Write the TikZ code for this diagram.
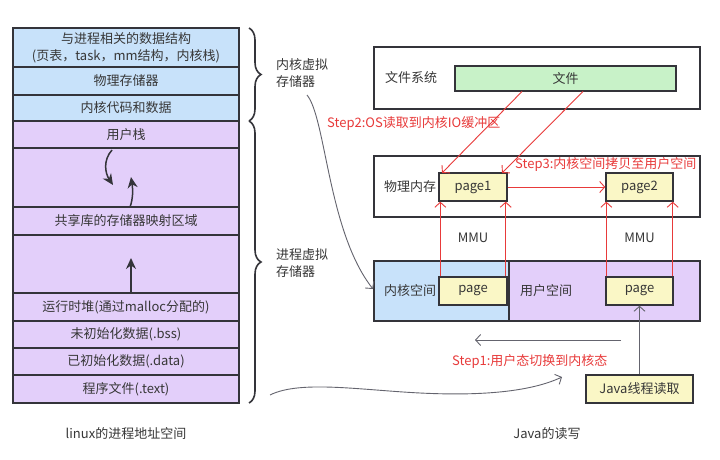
\documentclass[tikz,border=0pt]{standalone}
\usepackage{fontspec}
\setmainfont{Noto Sans CJK SC}
\usetikzlibrary{arrows.meta,decorations.pathreplacing}
\definecolor{kblue}{RGB}{200,226,250}
\definecolor{upurple}{RGB}{227,207,250}
\definecolor{fgreen}{RGB}{200,242,200}
\definecolor{pyellow}{RGB}{250,247,198}
\definecolor{sred}{RGB}{232,58,58}
\definecolor{edgec}{RGB}{52,52,58}
\definecolor{txt}{RGB}{55,55,55}
\definecolor{gline}{RGB}{100,100,110}
\tikzset{
  base/.style={font=\fontsize{13}{17}\selectfont, text=txt},
  box/.style={base, draw=edgec, line width=1.4pt, inner sep=0pt, anchor=center},
  row/.style={box, minimum width=226pt},
  kb/.style={row, fill=kblue},
  ub/.style={row, fill=upurple},
  lbl/.style={base, inner sep=0pt},
  redlbl/.style={font=\fontsize{13}{17}\selectfont, text=sred, inner sep=0pt, anchor=west},
  redarr/.style={draw=sred, line width=0.9pt, -{Straight Barb[length=5pt,width=11pt]}},
  grayarr/.style={draw=gline, line width=0.9pt, -{Straight Barb[length=5pt,width=11pt]}},
  blackarr/.style={draw=edgec, line width=1.5pt, -{Stealth[length=11pt,width=10pt]}},
  bracestyle/.style={draw=edgec, line width=1.6pt, decorate, decoration={brace, amplitude=12pt}},
}
\begin{document}
\begin{tikzpicture}[x=1pt,y=-1pt]
\useasboundingbox (0,0) rectangle (720,460);
\fill[white] (0,0) rectangle (720,460);

% ---- left column ----
\node[kb, minimum height=39pt, align=center] (r1) at (126,47.5) {与进程相关的数据结构\\(页表，task，mm结构，内核栈)};
\node[kb, minimum height=28pt] (r2) at (126,81) {物理存储器};
\node[kb, minimum height=26pt] (r3) at (126,108) {内核代码和数据};
\node[ub, minimum height=27pt] (r4) at (126,134.5) {用户栈};
\node[ub, minimum height=59pt] (r5) at (126,177.5) {};
\node[ub, minimum height=28pt] (r6) at (126,221) {共享库的存储器映射区域};
\node[ub, minimum height=58pt] (r7) at (126,264) {};
\node[ub, minimum height=28pt] (r8) at (126,307) {运行时堆(通过malloc分配的)};
\node[ub, minimum height=27pt] (r9) at (126,334.5) {未初始化数据(.bss)};
\node[ub, minimum height=27pt] (r10) at (126,361.5) {已初始化数据(.data)};
\node[ub, minimum height=28pt] (r11) at (126,389) {程序文件(.text)};

% arrows inside stack area
\coordinate (d1) at (112,150);
\coordinate (d2) at (113,185);
\coordinate (u1) at (130,207);
\coordinate (u2) at (131,177);
\coordinate (h1) at (131,293);
\coordinate (h2) at (131,258);
\draw[blackarr] (d1) .. controls (103,160) and (105,173) .. (d2);
\draw[blackarr] (u1) .. controls (133,199) and (133,190) .. (u2);
\draw[blackarr] (h1) -- (h2);

% braces
\coordinate (b1t) at (249,28);
\coordinate (b1b) at (249,121);
\coordinate (b2t) at (249,121);
\coordinate (b2b) at (249,403);
\draw[bracestyle] (b1t) -- (b1b);
\draw[bracestyle] (b2t) -- (b2b);
\node[lbl, anchor=west, align=left] (kv) at (276,73) {内核虚拟\\存储器};
\node[lbl, anchor=west, align=left] (pv) at (276,263) {进程虚拟\\存储器};

\node[lbl] (cap1) at (126,434) {linux的进程地址空间};

% ---- right side ----
\node[box, fill=white, minimum width=326pt, minimum height=62pt] (fs) at (537,78) {};
\node[lbl, anchor=west] (fsl) at (385,78) {文件系统};
\node[box, fill=fgreen, minimum width=221pt, minimum height=25pt] (file) at (565.5,78.5) {文件};

\node[box, fill=white, minimum width=326pt, minimum height=61pt] (mem) at (537,186.5) {};
\node[lbl, anchor=west] (meml) at (384,186.5) {物理内存};
\node[box, fill=pyellow, minimum width=68pt, minimum height=28pt] (page1) at (473,187) {page1};
\node[box, fill=pyellow, minimum width=67pt, minimum height=28pt] (page2) at (639.5,187) {page2};

\node[box, fill=kblue, minimum width=135pt, minimum height=60pt] (ks) at (441.5,291) {};
\node[box, fill=upurple, minimum width=191pt, minimum height=60pt] (us) at (604.5,291) {};
\node[lbl, anchor=west] (ksl) at (384,291) {内核空间};
\node[lbl, anchor=west] (usl) at (520,291) {用户空间};
\node[box, fill=pyellow, minimum width=68pt, minimum height=28pt] (kpage) at (473,291) {page};
\node[box, fill=pyellow, minimum width=67pt, minimum height=28pt] (upage) at (639.5,291) {page};

\node[box, fill=pyellow, minimum width=107pt, minimum height=28pt] (java) at (639.5,389) {Java线程读取};

\node[lbl] (mmu1) at (473,238) {MMU};
\node[lbl] (mmu2) at (639.5,238) {MMU};

% red connectors
\coordinate (f1) at (522,91.5);
\coordinate (f2) at (583,91.5);
\coordinate (p1a) at (442,173);
\coordinate (p1b) at (502,173);
\draw[redarr] (f1) -- (p1a);
\draw[redarr] (f2) -- (p1b);
\draw[redarr] (page1.east) -- (page2.west);
\draw[redarr] ([xshift=2pt]kpage.north west) -- ([xshift=2pt]page1.south west);
\draw[redarr] ([xshift=-2pt]kpage.north east) -- ([xshift=-2pt]page1.south east);
\draw[redarr] ([xshift=1pt]upage.north west) -- ([xshift=1pt]page2.south west);
\draw[redarr] ([xshift=-1pt]upage.north east) -- ([xshift=-1pt]page2.south east);

\node[redlbl] (s2) at (327,124) {Step2:OS读取到内核IO缓冲区};
\node[redlbl] (s3) at (515,164) {Step3:内核空间拷贝至用户空间};
\node[redlbl] (s1) at (452,361) {Step1:用户态切换到内核态};

% gray connectors
\coordinate (sa) at (621,340);
\coordinate (sb) at (475,340);
\draw[grayarr] (sa) -- (sb);
\draw[grayarr] (java.north) -- (upage.south);

\coordinate (c1s) at (307,95);
\coordinate (c1e) at (373,289);
\draw[grayarr] (c1s) .. controls (326,118) and (328,232) .. (c1e);

\coordinate (c2s) at (270,395);
\coordinate (c2m) at (420,393);
\coordinate (c2e) at (562,377);
\draw[grayarr] (c2s) .. controls (300,380) and (360,390) .. (c2m) .. controls (480,396) and (530,392) .. (c2e);

\node[lbl] (cap2) at (547,434) {Java的读写};
\end{tikzpicture}
\end{document}
